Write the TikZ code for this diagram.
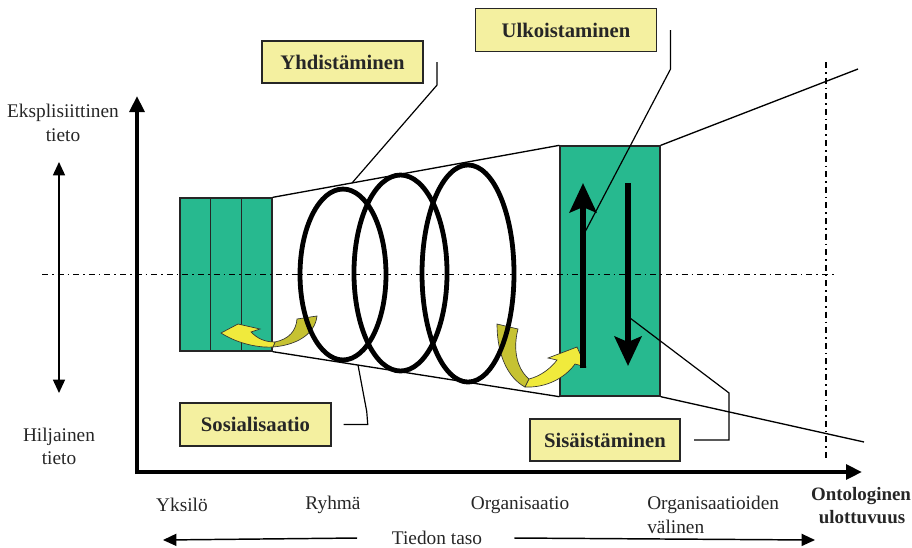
\documentclass[tikz,border=0pt]{standalone}
\usepackage{fontspec}
\setmainfont{Liberation Serif}
\usetikzlibrary{arrows.meta,calc}
\definecolor{blockgreen}{HTML}{27B98F}
\definecolor{notefill}{HTML}{F4F0A0}
\definecolor{arrowgold}{HTML}{F0EA3C}
\definecolor{arrowolive}{HTML}{C6C232}
\begin{document}
\begin{tikzpicture}[x=0.75pt,y=-0.75pt,
  note/.style={draw=black!85, line width=1.1pt, fill=notefill,
    font=\bfseries\fontsize{15.5}{18}\selectfont, inner sep=0pt, text=black!85},
  axisline/.style={line width=3.4pt, -{Triangle[length=12pt,width=11pt]}},
  leader/.style={line width=0.9pt},
  cone/.style={line width=1pt},
  centreline/.style={dash pattern=on 4.5pt off 3pt on 1.2pt off 3pt, line width=1pt},
  block/.style={draw=black!85, line width=1pt, fill=blockgreen, inner sep=0pt},
  spiral/.style={line width=3.6pt},
  flow/.style={line width=4.6pt, -{Stealth[length=22pt,width=20pt,inset=4pt]}},
  ribbonfront/.style={fill=arrowgold, draw=black!80, line width=0.5pt},
  ribbonback/.style={fill=arrowolive, draw=black!80, line width=0.5pt},
  caption/.style={font=\fontsize{14.5}{17}\selectfont, inner sep=0pt, text=black!85},
  boldcaption/.style={font=\bfseries\fontsize{14.2}{17}\selectfont, inner sep=0pt, text=black!85},
  thinarrow/.style={line width=1.1pt, {Triangle[length=10pt,width=9pt]}-{Triangle[length=10pt,width=9pt]}},
  onearrow/.style={line width=1.1pt, -{Triangle[length=10pt,width=9pt]}}
]
\useasboundingbox (0,0) rectangle (912,547);

% knowledge blocks
\node[block, minimum width=69pt, minimum height=114.75pt] (lb) at (226,274.5) {};
\draw[line width=1pt, black!85] ($(lb.north west)!1/3!(lb.north east)$) -- ($(lb.south west)!1/3!(lb.south east)$);
\draw[line width=1pt, black!85] ($(lb.north west)!2/3!(lb.north east)$) -- ($(lb.south west)!2/3!(lb.south east)$);
\node[block, minimum width=75pt, minimum height=187.5pt] (rb) at (610,271) {};

% widening cone
\coordinate (coneTR) at (858,69);
\coordinate (coneBR) at (864,442);
\draw[cone] (lb.north east) -- (rb.north west);
\draw[cone] (lb.south east) -- (rb.south west);
\draw[cone] (rb.north east) -- (coneTR);
\draw[cone] (rb.south east) -- (coneBR);

% curved ribbon arrows
\path[ribbonback] (297,319) -- (317,316) .. controls (315,334) and (297,345) .. (273,347)
  -- (275,342) .. controls (289,339) and (296,331) .. (297,319) -- cycle;
\path[ribbonfront] (221,333) -- (238,324) -- (260,329) -- (251,332)
  .. controls (257,338) and (264,342) .. (275,342) -- (273,347)
  .. controls (255,348) and (235,342) .. (221,333) -- cycle;
\path[ribbonback] (497,324) -- (518,329) .. controls (513,348) and (516,368) .. (529,379)
  -- (525,387) .. controls (508,378) and (497,355) .. (497,324) -- cycle;
\path[ribbonfront] (529,379) .. controls (541,376) and (551,368) .. (557,360)
  -- (548,358) -- (577,347) -- (586,367) -- (575,364)
  .. controls (565,378) and (546,388) .. (525,387) -- cycle;

% knowledge spiral
\draw[spiral] (343,274.5) ellipse [x radius=32.25pt, y radius=64.1pt];
\draw[spiral] (400.5,273) ellipse [x radius=34.9pt, y radius=73.5pt];
\draw[spiral] (468,273.5) ellipse [x radius=34.5pt, y radius=81.4pt];

% externalisation / internalisation arrows
\draw[flow] (583,368) -- (583,183);
\draw[flow] (628,183) -- (628,366);

% centre lines
\draw[centreline] (42,274.5) -- (835,274.5);
\draw[centreline] (826,62) -- (826,458);

% process labels and leaders
\node[note, minimum width=120.75pt, minimum height=31.5pt] (yh) at (342.5,62) {Yhdistäminen};
\node[note, minimum width=135.75pt, minimum height=32.25pt] (ul) at (566,30) {Ulkoistaminen};
\node[note, minimum width=113.25pt, minimum height=32.25pt] (so) at (255.5,424.5) {Sosialisaatio};
\node[note, minimum width=112.5pt, minimum height=31.5pt] (si) at (605,440) {Sisäistäminen};

\coordinate (yhend) at (352,183);
\coordinate (ulend) at (585,232);
\coordinate (soend) at (358,365);
\coordinate (siend) at (630,318);
\draw[leader] ([xshift=10pt]yh.east) -- ++(0,23) -- (yhend);
\draw[leader] ([xshift=10pt]ul.east) -- ++(0,39) -- (ulend);
\draw[leader] ([xshift=9pt]so.east) -- ++(24,0) -- ++(-1,-13) -- (soend);
\draw[leader] ([xshift=10pt]si.east) -- ++(35,0) -- ++(0,-47) -- (siend);

% axes
\coordinate (origin) at (137,472);
\draw[axisline] ($(origin)+(0,2)$) -- (137,96);
\draw[axisline] ($(origin)+(-1.5,0)$) -- (862,472);

% epistemological dimension
\node[caption] (eks1) at (63,113) {Eksplisiittinen};
\node[caption] (eks2) at (63,135) {tieto};
\node[caption] (hil1) at (59,437) {Hiljainen};
\node[caption] (hil2) at (59,458) {tieto};
\coordinate (epiTop) at (59,162);
\coordinate (epiBot) at (59,393);
\draw[thinarrow] (epiTop) -- (epiBot);

% ontological dimension
\node[caption] (yk) at (182,505) {Yksilö};
\node[caption] (ry) at (333,505) {Ryhmä};
\node[caption] (org) at (520,505) {Organisaatio};
\node[caption, anchor=west] (orgs1) at (647,505) {Organisaatioiden};
\node[caption, anchor=west] (orgs2) at (647,527) {välinen};
\node[boldcaption] (ont1) at (861,496) {Ontologinen};
\node[boldcaption] (ont2) at (862,517) {ulottuvuus};
\node[caption] (taso) at (437,538) {Tiedon taso};
\coordinate (tasoL) at (163,540);
\coordinate (tasoR) at (815,540);
\draw[onearrow] ([xshift=-26pt]taso.west) -- (tasoL);
\draw[onearrow] ([xshift=24pt]taso.east) -- (tasoR);
\end{tikzpicture}
\end{document}
